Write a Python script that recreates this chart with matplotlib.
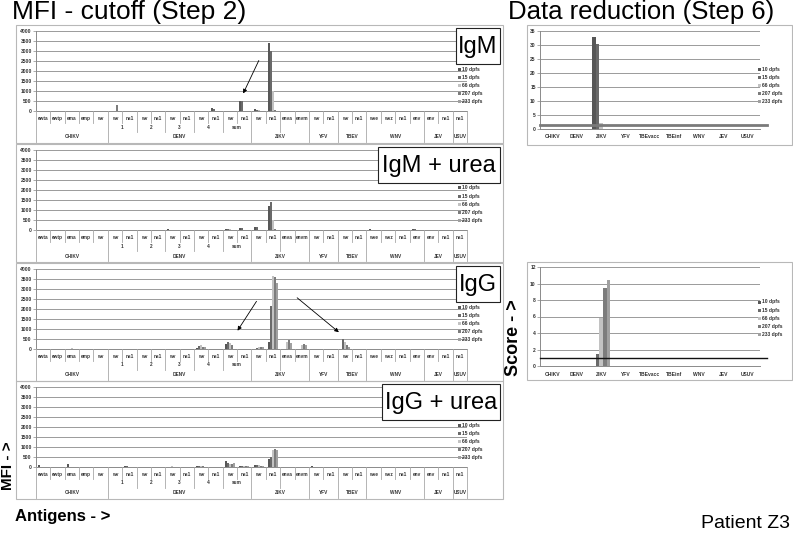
import matplotlib
matplotlib.use("Agg")
import matplotlib.pyplot as plt
import matplotlib.transforms as mtransforms
from matplotlib.patches import Rectangle, FancyArrowPatch
from matplotlib.lines import Line2D
import numpy as np

W, H = 793, 533

series = ["10 dpfs", "15 dpfs", "66 dpfs", "207 dpfs", "233 dpfs"]
colors = ["#575757", "#6a6a6a", "#c2c2c2", "#7c7c7c", "#a0a0a0"]

# MFI panels: antigen axis (3 levels)
viruses = ["CHIKV", "DENV", "ZIKV", "YFV", "TBEV", "WNV", "JEV", "USUV"]
virus_sizes = [5, 10, 4, 2, 2, 4, 2, 1]
denv_types = ["1", "2", "3", "4", "sum"]
antigens = ["ewta", "ewtp", "ema", "emp", "wv",
            "wv", "ns1", "wv", "ns1", "wv", "ns1", "wv", "ns1", "wv", "ns1",
            "wv", "ns1", "enva", "envm",
            "wv", "ns1",
            "wv", "ns1",
            "wve", "wvz", "ns1", "env",
            "env", "ns1",
            "ns1"]

igm = {
    "10 dpfs":  [0, 0, 0, 0, 0, 0, 0, 0, 0, 0, 0, 0, 170, 0, 500, 100, 3400, 0, 0, 0, 0, 0, 0, 0, 0, 0, 0, 0, 0, 0],
    "15 dpfs":  [0, 0, 0, 0, 0, 0, 0, 0, 0, 0, 0, 0, 90, 0, 490, 60, 3000, 0, 0, 0, 0, 0, 0, 0, 0, 0, 0, 0, 0, 0],
    "66 dpfs":  [0, 0, 0, 0, 0, 0, 0, 0, 0, 0, 0, 0, 0, 0, 0, 30, 1000, 0, 0, 0, 0, 0, 0, 0, 0, 0, 0, 0, 0, 0],
    "207 dpfs": [0, 0, 0, 0, 0, 300, 0, 0, 0, 0, 0, 0, 0, 0, 0, 0, 50, 0, 0, 0, 0, 0, 0, 0, 0, 0, 0, 0, 0, 0],
    "233 dpfs": [0, 0, 0, 0, 0, 0, 0, 0, 0, 0, 0, 0, 0, 0, 0, 0, 20, 0, 0, 0, 0, 0, 0, 0, 0, 0, 0, 0, 0, 0],
}
igm_urea = {
    "10 dpfs":  [0, 0, 0, 0, 20, 0, 0, 0, 0, 30, 0, 0, 0, 50, 100, 170, 1200, 0, 0, 0, 0, 0, 0, 30, 0, 0, 50, 0, 0, 0],
    "15 dpfs":  [0, 0, 0, 0, 0, 0, 0, 0, 0, 0, 0, 0, 0, 40, 80, 150, 1400, 0, 0, 0, 0, 0, 0, 0, 0, 0, 40, 0, 0, 0],
    "66 dpfs":  [0, 0, 0, 0, 0, 0, 0, 0, 0, 0, 0, 0, 0, 30, 0, 0, 500, 0, 0, 0, 0, 0, 0, 0, 0, 0, 0, 0, 0, 0],
    "207 dpfs": [0, 0, 0, 0, 0, 0, 0, 0, 0, 0, 0, 0, 0, 0, 0, 0, 30, 0, 0, 0, 0, 0, 0, 0, 0, 0, 0, 0, 0, 0],
    "233 dpfs": [0] * 30,
}
igg = {
    "10 dpfs":  [0, 0, 0, 0, 0, 0, 0, 0, 0, 0, 0, 60, 0, 250, 0, 20, 330, 0, 0, 0, 0, 0, 0, 0, 0, 0, 0, 0, 0, 0],
    "15 dpfs":  [0, 0, 0, 0, 0, 0, 0, 0, 0, 0, 0, 150, 0, 350, 0, 30, 2150, 0, 0, 0, 0, 480, 0, 0, 0, 0, 0, 0, 0, 0],
    "66 dpfs":  [0, 0, 50, 0, 0, 0, 0, 0, 0, 0, 0, 200, 0, 300, 0, 100, 3650, 370, 200, 0, 0, 350, 0, 0, 0, 0, 0, 0, 0, 0],
    "207 dpfs": [0, 0, 0, 0, 0, 0, 0, 0, 0, 0, 0, 120, 0, 220, 0, 120, 3600, 470, 270, 0, 0, 220, 0, 0, 0, 0, 0, 0, 0, 0],
    "233 dpfs": [0, 0, 0, 0, 0, 0, 0, 0, 0, 0, 0, 80, 0, 0, 0, 100, 3300, 300, 180, 0, 0, 80, 0, 0, 0, 0, 0, 0, 0, 0],
}
igg_urea = {
    "10 dpfs":  [100, 0, 150, 0, 0, 0, 40, 0, 0, 0, 0, 70, 0, 300, 60, 120, 380, 0, 0, 30, 0, 0, 0, 0, 0, 0, 0, 0, 0, 0],
    "15 dpfs":  [0, 0, 0, 0, 0, 0, 30, 0, 20, 0, 0, 50, 0, 200, 60, 80, 500, 0, 0, 0, 0, 0, 0, 0, 0, 0, 0, 0, 0, 0],
    "66 dpfs":  [0, 0, 0, 0, 0, 0, 0, 0, 0, 30, 0, 60, 0, 150, 70, 90, 870, 0, 0, 0, 0, 0, 0, 0, 0, 0, 0, 0, 0, 0],
    "207 dpfs": [0, 0, 0, 0, 0, 0, 0, 0, 0, 0, 0, 40, 0, 170, 50, 70, 920, 0, 0, 0, 0, 0, 0, 0, 0, 0, 0, 0, 0, 0],
    "233 dpfs": [0, 0, 0, 0, 0, 0, 0, 0, 0, 0, 0, 0, 0, 180, 60, 60, 850, 0, 0, 0, 0, 0, 0, 0, 0, 0, 0, 0, 0, 0],
}

# score panels
score_viruses = ["CHIKV", "DENV", "ZIKV", "YFV", "TBEvacc", "TBEinf", "WNV", "JEV", "USUV"]
igm_score = {
    "10 dpfs":  [0, 0, 33, 0, 0, 0, 0, 0, 0],
    "15 dpfs":  [0, 0, 30.5, 0, 0, 0, 0, 0, 0],
    "66 dpfs":  [0, 0, 2, 0, 0, 0, 0, 0, 0],
    "207 dpfs": [0, 0, 0, 0, 0, 0, 0, 0, 0],
    "233 dpfs": [0, 0, 0, 0, 0, 0, 0, 0, 0],
}
igg_score = {
    "10 dpfs":  [0, 0, 0, 0, 0, 0, 0, 0, 0],
    "15 dpfs":  [0, 0, 1.5, 0, 0, 0, 0, 0, 0],
    "66 dpfs":  [0, 0, 5.8, 0, 0, 0, 0, 0, 0],
    "207 dpfs": [0, 0, 9.5, 0, 0, 0, 0, 0, 0],
    "233 dpfs": [0, 0, 10.4, 0, 0, 0, 0, 0, 0],
}
igm_cutoff = 1.3
igg_cutoff = 1.0

plt.rcParams["font.family"] = ["Liberation Sans", "DejaVu Sans"]
fig = plt.figure(figsize=(W / 100, H / 100), dpi=100)


def fx(x):
    return x / W


def fy(y):
    return 1 - y / H


def frame(x0, y0, x1, y1, ec="#b8b8b8", lw=0.8):
    fig.add_artist(Rectangle((fx(x0), fy(y1)), fx(x1) - fx(x0), fy(y0) - fy(y1),
                             transform=fig.transFigure, fill=False, ec=ec, lw=lw))


def legend(x, y0):
    for j, s in enumerate(series):
        y = y0 + 8.2 * j
        fig.add_artist(Rectangle((fx(x), fy(y + 1.5)), 3 / W, 3 / H, transform=fig.transFigure,
                                 fc=colors[j], ec="none"))
        fig.text(fx(x + 4.5), fy(y), s, fontsize=3.6, weight="bold", va="center", color="#333333")


def label_box(x0, y0, x1, y1, text):
    fig.add_artist(Rectangle((fx(x0), fy(y1)), fx(x1) - fx(x0), fy(y0) - fy(y1),
                             transform=fig.transFigure, fc="white", ec="#222222", lw=0.8, zorder=5))
    fig.text(fx((x0 + x1) / 2), fy((y0 + y1) / 2 + 1), text, fontsize=17, ha="center", va="center", zorder=6)


def style_axes(ax):
    ax.patch.set_alpha(0)
    for sp in ["top", "right"]:
        ax.spines[sp].set_visible(False)
    for sp in ["left", "bottom"]:
        ax.spines[sp].set_color("#8a8a8a")
        ax.spines[sp].set_linewidth(0.7)
    ax.yaxis.grid(True, color="#8a8a8a", lw=0.6)
    ax.set_axisbelow(True)
    ax.set_xticks([])
    ax.tick_params(axis="y", labelsize=3.6, length=2, width=0.5, pad=1,
                   color="#8a8a8a", labelcolor="#333333")
    for t in ax.get_yticklabels():
        t.set_fontweight("bold")


def mfi_panel(top, data, label, box_left):
    frame(16, top, 503, top + 118)
    zero = top + 86
    ax = fig.add_axes([fx(36), fy(zero), fx(467) - fx(36), 80 / H])
    x = np.arange(len(antigens))
    wb = 0.14
    for j, s in enumerate(series):
        ax.bar(x + (j - 2) * wb, data[s], width=wb, color=colors[j], linewidth=0, zorder=3)
    ax.set_xlim(-0.5, len(antigens) - 0.5)
    ax.set_ylim(0, 4000)
    ax.set_yticks(range(0, 4001, 500))
    style_axes(ax)

    trans = mtransforms.blended_transform_factory(ax.transData, fig.transFigure)
    starts = np.cumsum([0] + virus_sizes)
    mids = [7, 9, 11, 13, 17]
    for b in range(len(antigens) + 1):
        if b in starts:
            depth = zero + 31
        elif b in mids:
            depth = zero + 21
        else:
            depth = zero + 12
        fig.add_artist(Line2D([b - 0.5, b - 0.5], [fy(zero), fy(depth)], transform=trans,
                              color="#a8a8a8", lw=0.6))
    for i, a in enumerate(antigens):
        ax.text(i, fy(zero + 7.5), a, transform=trans, ha="center", va="center",
                fontsize=3.4, weight="bold", color="#333333")
    for k, t in enumerate(denv_types):
        ax.text(5 + 2 * k + 0.5, fy(zero + 16), t, transform=trans, ha="center", va="center",
                fontsize=3.4, weight="bold", color="#333333")
    for v, s0, n in zip(viruses, starts[:-1], virus_sizes):
        ax.text(s0 + (n - 1) / 2, fy(zero + 26), v, transform=trans, ha="center", va="center",
                fontsize=3.4, weight="bold", color="#333333")

    legend(458, top + 44)
    label_box(box_left, top + 3, 500, top + 39, label)
    return ax


def score_panel(top, bottom, zero, ytop, data, ymax, step, cutoff, cut_color, cut_lw):
    frame(527, top, 792, bottom)
    ax = fig.add_axes([fx(540), fy(zero), fx(760) - fx(540), (zero - ytop) / H])
    x = np.arange(len(score_viruses))
    wb = 0.15
    for j, s in enumerate(series):
        ax.bar(x + (j - 2) * wb, data[s], width=wb, color=colors[j], linewidth=0, zorder=3)
    ax.plot([-0.5, 8.8], [cutoff, cutoff], color=cut_color, lw=cut_lw, clip_on=False, zorder=4)
    ax.set_xlim(-0.5, len(score_viruses) - 0.5)
    ax.set_ylim(0, ymax)
    ax.set_yticks(np.arange(0, ymax + 0.1, step))
    style_axes(ax)
    ax.set_yticklabels([f"{int(v)}" for v in np.arange(0, ymax + 0.1, step)],
                       fontsize=3.6, weight="bold")
    trans = mtransforms.blended_transform_factory(ax.transData, fig.transFigure)
    for i, v in enumerate(score_viruses):
        ax.text(i, fy(zero + 8), v, transform=trans, ha="center", va="center",
                fontsize=3.6, weight="bold", color="#333333")
    legend(758, top + 44 if top < 100 else top + 40)
    return ax


mfi_panel(25, igm, "IgM", 456)
mfi_panel(144, igm_urea, "IgM + urea", 378)
mfi_panel(263, igg, "IgG", 456)
mfi_panel(381, igg_urea, "IgG + urea", 382)

score_panel(25, 145, 129, 31, igm_score, 35, 5, igm_cutoff, "#7a7a7a", 2.0)
score_panel(262, 380, 366, 267, igg_score, 12, 2, igg_cutoff, "#111111", 1.0)

# arrows
for (x0, y0, x1, y1) in [(260, 58, 242, 96), (258, 299, 236, 333), (295, 296, 341, 334)]:
    fig.add_artist(FancyArrowPatch((fx(x0), fy(y0)), (fx(x1), fy(y1)), transform=fig.transFigure,
                                   arrowstyle="-|>", mutation_scale=6, lw=0.6, color="black"))

fig.text(fx(12), fy(12), "MFI - cutoff (Step 2)", fontsize=19, va="center")
fig.text(fx(508), fy(12), "Data reduction (Step 6)", fontsize=18.5, va="center")
fig.text(fx(8), fy(466), "MFI - >", fontsize=11, weight="bold", rotation=90, ha="center", va="center")
fig.text(fx(514), fy(338), "Score - >", fontsize=13, weight="bold", rotation=90, ha="center", va="center")
fig.text(fx(15), fy(517), "Antigens - >", fontsize=12, weight="bold", va="center")
fig.text(fx(790), fy(523), "Patient Z3", fontsize=14, ha="right", va="center")

fig.savefig("out.png", dpi=100)
